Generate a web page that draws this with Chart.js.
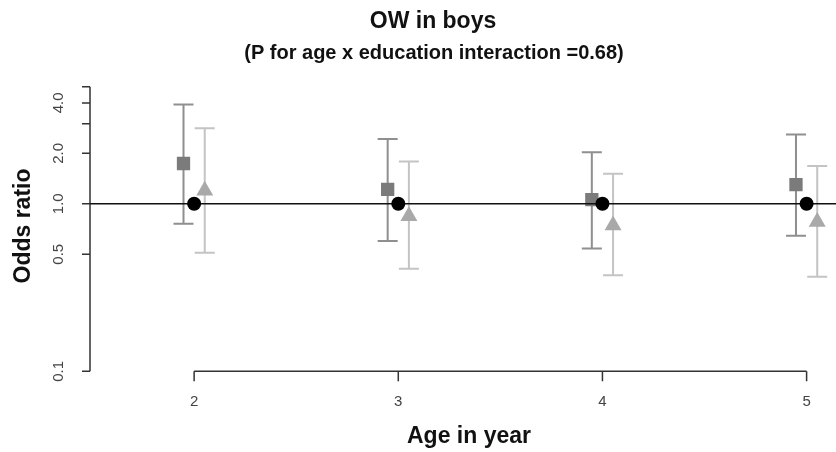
<!DOCTYPE html>
<html>
<head>
<meta charset="utf-8">
<script src="https://cdn.jsdelivr.net/npm/chart.js@4/dist/chart.umd.min.js"></script>
<style>
  html, body { margin: 0; padding: 0; background: #fff; }
  canvas { display: block; }
</style>
</head>
<body>
<canvas id="c" width="836" height="452"></canvas>
<script>
// Odds ratios (with 95% CI) of overweight in boys by age and maternal education
const ages = [2, 3, 4, 5];
const lowEduOR = [1.74, 1.22, 1.06, 1.30];
const lowEduLo = [0.76, 0.60, 0.54, 0.645];
const lowEduHi = [3.92, 2.44, 2.03, 2.59];
const midEduOR = [1.20, 0.845, 0.743, 0.78];
const midEduLo = [0.51, 0.41, 0.375, 0.367];
const midEduHi = [2.82, 1.79, 1.51, 1.68];
const highEduOR = [1, 1, 1, 1];           // reference group

const yTickValues = [0.1, 0.5, 1, 2, 3, 4, 5];
const yTickLabels = ['0.1', '0.5', '1.0', '2.0', '', '4.0', ''];
const xTickLabels = ['2', '3', '4', '5'];

const titleText = 'OW in boys';
const subtitleText = '(P for age x education interaction =0.68)';
const yTitle = 'Odds ratio';
const xTitle = 'Age in year';

const FONT = '"Liberation Sans", Arial, Helvetica, sans-serif';
const dodge = 0.052;   // horizontal spread of the groups around each age
const pts = (vals, shift) => ages.map((a, i) => ({ x: a + shift, y: vals[i] }));

const decor = {
  id: 'decor',
  beforeDatasetsDraw(chart) {
    const { ctx, scales: { x, y } } = chart;
    ctx.save();

    // confidence intervals
    const bars = [
      [lowEduLo, lowEduHi, -dodge, '#8f8f8f'],
      [midEduLo, midEduHi, dodge, '#c4c4c4']
    ];
    bars.forEach(([lo, hi, shift, col]) => {
      ctx.strokeStyle = col;
      ctx.lineWidth = 2;
      ages.forEach((a, i) => {
        const px = x.getPixelForValue(a + shift);
        const p1 = y.getPixelForValue(lo[i]);
        const p2 = y.getPixelForValue(hi[i]);
        ctx.beginPath();
        ctx.moveTo(px, p1); ctx.lineTo(px, p2);
        ctx.moveTo(px - 10, p1); ctx.lineTo(px + 10, p1);
        ctx.moveTo(px - 10, p2); ctx.lineTo(px + 10, p2);
        ctx.stroke();
      });
    });

    // y axis
    ctx.strokeStyle = '#333';
    ctx.lineWidth = 1.5;
    const yAxisX = chart.chartArea.left;
    ctx.beginPath();
    ctx.moveTo(yAxisX, y.getPixelForValue(yTickValues[0]));
    ctx.lineTo(yAxisX, y.getPixelForValue(yTickValues[yTickValues.length - 1]));
    yTickValues.forEach(v => {
      const py = y.getPixelForValue(v);
      ctx.moveTo(yAxisX, py); ctx.lineTo(yAxisX - 8, py);
    });
    ctx.stroke();

    ctx.fillStyle = '#444';
    ctx.font = '15px ' + FONT;
    ctx.textAlign = 'center';
    ctx.textBaseline = 'middle';
    yTickValues.forEach((v, i) => {
      if (!yTickLabels[i]) return;
      ctx.save();
      ctx.translate(59, y.getPixelForValue(v));
      ctx.rotate(-Math.PI / 2);
      ctx.fillText(yTickLabels[i], 0, 0);
      ctx.restore();
    });

    // x axis
    const xAxisY = chart.chartArea.bottom;
    ctx.beginPath();
    ctx.moveTo(x.getPixelForValue(ages[0]), xAxisY);
    ctx.lineTo(x.getPixelForValue(ages[ages.length - 1]), xAxisY);
    ages.forEach(a => {
      const px = x.getPixelForValue(a);
      ctx.moveTo(px, xAxisY); ctx.lineTo(px, xAxisY + 10);
    });
    ctx.stroke();
    ages.forEach((a, i) => {
      ctx.fillText(xTickLabels[i], x.getPixelForValue(a), xAxisY + 31);
    });

    // titles
    ctx.fillStyle = '#111';
    ctx.font = 'bold 23px ' + FONT;
    ctx.fillText(titleText, 433, 22);
    ctx.font = 'bold 20px ' + FONT;
    ctx.fillText(subtitleText, 434, 53);
    ctx.font = 'bold 23px ' + FONT;
    ctx.fillText(xTitle, 469, 437);
    ctx.save();
    ctx.translate(24, 226);
    ctx.rotate(-Math.PI / 2);
    ctx.fillText(yTitle, 0, 0);
    ctx.restore();

    ctx.restore();
  },
  beforeDatasetDraw(chart, args) {
    // reference line at OR = 1, under the reference-group dots
    if (args.index !== 0) return;
    const { ctx, chartArea, scales: { y } } = chart;
    const py = y.getPixelForValue(1);
    ctx.save();
    ctx.strokeStyle = '#111';
    ctx.lineWidth = 1.5;
    ctx.beginPath();
    ctx.moveTo(chartArea.left, py);
    ctx.lineTo(chartArea.right, py);
    ctx.stroke();
    ctx.restore();
  }
};

new Chart(document.getElementById('c'), {
  type: 'scatter',
  data: {
    datasets: [
      { label: 'High', data: pts(highEduOR, 0), pointStyle: 'circle', pointRadius: 7,
        backgroundColor: '#000', borderWidth: 0 },
      { label: 'Low', data: pts(lowEduOR, -dodge), pointStyle: 'rect', pointRadius: 9.4,
        backgroundColor: '#7b7b7b', borderWidth: 0 },
      { label: 'Middle', data: pts(midEduOR, dodge), pointStyle: 'triangle', pointRadius: 9.8,
        backgroundColor: '#a9a9a9', borderWidth: 0 }
    ]
  },
  options: {
    responsive: false,
    animation: false,
    devicePixelRatio: 1,
    events: [],
    layout: { autoPadding: false, padding: { left: 90, right: 0, top: 86.7, bottom: 80.7 } },
    plugins: { legend: { display: false }, tooltip: { enabled: false } },
    scales: {
      x: { type: 'linear', min: 1.49, max: 5.144, display: false },
      y: { type: 'logarithmic', min: 0.1, max: 5, display: false }
    }
  },
  plugins: [decor]
});
</script>
</body>
</html>
